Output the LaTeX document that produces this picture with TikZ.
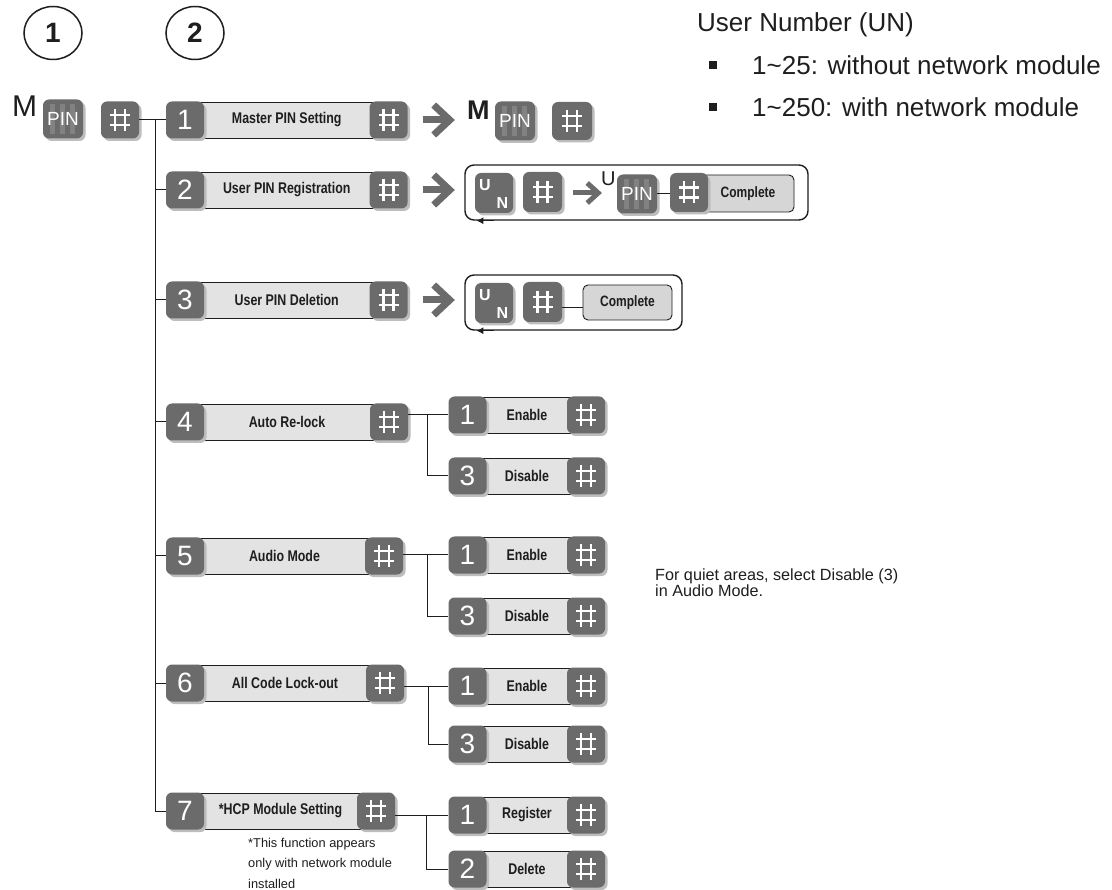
\documentclass[tikz,border=0pt]{standalone}
\usepackage{fontspec}
\setmainfont{Liberation Sans}
\setsansfont{Liberation Sans}
\newfontfamily\condfont[FakeStretch=0.8]{Liberation Sans}
\usetikzlibrary{calc,shapes.geometric,shadows,arrows.meta}
\definecolor{keygray}{HTML}{6B6B6B}
\definecolor{shadowgray}{HTML}{BDBDBD}
\definecolor{bargray}{HTML}{E3E3E3}
\definecolor{compgray}{HTML}{D6D6D6}
\definecolor{inkcol}{HTML}{1E1E1E}
\tikzset{
  keycap/.style={rounded corners=6pt, fill=keygray, minimum width=38pt, minimum height=37pt,
    inner sep=0pt, text=white, font=\fontsize{28}{28}\selectfont,
    general shadow={fill=shadowgray, shadow xshift=2.5pt, shadow yshift=-2.5pt}},
  labelbar/.style={fill=bargray, draw=inkcol, line width=0.9pt, minimum height=36pt, inner sep=0pt,
    font=\condfont\bfseries\fontsize{15.5}{16}\selectfont, text=inkcol},
  compbar/.style={fill=compgray, draw=inkcol, line width=0.9pt, rounded corners=5pt, inner sep=0pt,
    font=\condfont\bfseries\fontsize{15}{16}\selectfont, text=inkcol},
  loopbox/.style={draw=inkcol, line width=1.4pt, rounded corners=9pt, inner sep=0pt, fill=white},
  hashline/.style={white, line width=2.4pt},
  wire/.style={inkcol, line width=1pt},
  bigarr/.style={keygray, line width=7pt, line join=miter},
  smallarr/.style={keygray, line width=5pt, line join=miter},
  plaintext/.style={inner sep=0pt, text=inkcol},
  unletter/.style={inner sep=0pt, text=white, font=\bfseries\fontsize{16}{16}\selectfont}
}
\newcommand\hashmark[1]{%
  \draw[hashline] ($(#1.center)+(-5,-11)$) -- ++(0,22)
                  ($(#1.center)+(5,-11)$) -- ++(0,22)
                  ($(#1.center)+(-10,-5)$) -- ++(20,0)
                  ($(#1.center)+(-10,5)$) -- ++(20,0);}
\newcommand\pinkey[3]{%
  \node[keycap, minimum width=40pt, minimum height=39pt] (#1) at (#2,#3) {};
  \foreach \dx in {-11,-1,9} \fill[white, opacity=0.16] ($(#1.center)+({\dx-2.5},-15)$) rectangle ++(5,30);
  \node[inner sep=0pt, text=white, font=\fontsize{19}{19}\selectfont] (#1t) at (#1.center) {PIN};}
\newcommand\unkey[3]{%
  \node[keycap, minimum height=40pt] (#1) at (#2,#3) {};
  \node[unletter] (#1u) at ($(#1.center)+(-9,-8)$) {U};
  \node[unletter] (#1n) at ($(#1.center)+(8.5,10)$) {N};}
\newcommand\mainrow[5]{%
  \node[labelbar, minimum width={#5-213}] (b#1) at ({(185+#5)/2},#2) {#4};
  \node[keycap] (k#1) at (185,#2) {#3};
  \node[keycap] (h#1) at (#5,#2) {};
  \hashmark{h#1}}
\newcommand\subrow[4]{%
  \node[labelbar, minimum width=94] (sb#1) at (527,#2) {#4};
  \node[keycap] (sk#1) at (467.5,#2) {#3};
  \node[keycap] (sh#1) at (586,#2) {};
  \hashmark{sh#1}}
\newcommand\bigarrow[2]{%
  \coordinate (#1s) at ($(#2.east)+(15,0)$);
  \coordinate (#1e) at ($(#2.east)+(41,0)$);
  \draw[bigarr] (#1s) -- (#1e);
  \draw[bigarr] ($(#1e)+(-15,-15)$) -- ($(#1e)+(1,0)$) -- ($(#1e)+(-15,15)$);}
\begin{document}
\begin{tikzpicture}[x=1pt,y=-1pt]
\useasboundingbox (0,0) rectangle (1112,890);
\fill[white] (0,0) rectangle (1112,890);

% step circles
\node[draw=inkcol, ellipse, line width=1.5pt, minimum width=58pt, minimum height=53pt, inner sep=0pt,
  font=\bfseries\fontsize{28}{28}\selectfont, text=inkcol] (c1) at (53,33) {1};
\node[draw=inkcol, ellipse, line width=1.5pt, minimum width=58pt, minimum height=53pt, inner sep=0pt,
  font=\bfseries\fontsize{28}{28}\selectfont, text=inkcol] (c2) at (195,33) {2};

% start: M PIN #
\node[plaintext, anchor=base west, font=\fontsize{30}{30}\selectfont] (m0) at (12,117) {M};
\pinkey{p0}{63}{119}
\node[keycap] (h0) at (120,120) {};
\hashmark{h0}

% main rows
\mainrow{1}{120}{1}{Master PIN Setting}{388.5}
\mainrow{2}{190}{2}{User PIN Registration}{388.5}
\mainrow{3}{300}{3}{User PIN Deletion}{388.5}
\mainrow{4}{422}{4}{Auto Re-lock}{389}
\mainrow{5}{556}{5}{Audio Mode}{384}
\mainrow{6}{683}{6}{All Code Lock-out}{385}
\mainrow{7}{811}{7}{*HCP Module Setting}{376}

% trunk
\coordinate (tt) at (155,120);
\draw[wire] (h0.east) -- (k1.west);
\draw[wire] (tt) |- (k7.west);
\foreach \r in {2,...,6} \draw[wire] (k\r.west -| tt) -- (k\r.west);

% row 1 result
\bigarrow{a1}{h1}
\node[plaintext, anchor=base west, font=\bfseries\fontsize{27}{27}\selectfont] (m1) at (467,120) {M};
\pinkey{p1}{515}{121}
\node[keycap, minimum width=40pt, minimum height=38pt] (h1b) at (572,121) {};
\hashmark{h1b}

% row 2 loop
\bigarrow{a2}{h2}
\node[loopbox, minimum width=343pt, minimum height=55pt] (loop2) at (636.5,192.5) {};
\draw[inkcol, line width=1.4pt, -{Latex[length=7pt,width=7pt]}] ($(loop2.south west)+(30,0)$) -- ($(loop2.south west)+(12,0)$);
\unkey{un2}{494}{193}
\node[keycap, minimum width=39pt, minimum height=40pt] (h2a) at (542.5,192) {};
\hashmark{h2a}
\coordinate (s2s) at ($(h2a.east)+(11,1)$);
\coordinate (s2e) at ($(h2a.east)+(35,1)$);
\draw[smallarr] (s2s) -- (s2e);
\draw[smallarr] ($(s2e)+(-10,-10)$) -- ($(s2e)+(1,0)$) -- ($(s2e)+(-10,10)$);
\node[plaintext, anchor=base west, font=\fontsize{20}{20}\selectfont] (u2) at (601,186) {U};
\pinkey{p2}{637}{194}
\node[compbar, minimum width=92pt, minimum height=37pt] (cp2) at (748,193.5) {Complete};
\node[keycap, minimum height=39pt] (h2b) at (689,192.5) {};
\hashmark{h2b}
\draw[wire] (p2.east) -- (p2.east -| h2b.west);

% row 3 loop
\bigarrow{a3}{h3}
\node[loopbox, minimum width=217pt, minimum height=55pt] (loop3) at (573.5,302.5) {};
\draw[inkcol, line width=1.4pt, -{Latex[length=7pt,width=7pt]}] ($(loop3.south west)+(30,0)$) -- ($(loop3.south west)+(12,0)$);
\unkey{un3}{494}{303}
\node[keycap, minimum width=39pt, minimum height=40pt] (h3a) at (542.5,302) {};
\hashmark{h3a}
\node[compbar, minimum width=89pt, minimum height=35pt] (cp3) at (627.5,302.5) {Complete};
\draw[wire] ([yshift=-6pt]h3a.east) -- ([yshift=-6pt]h3a.east -| cp3.west);

% sub rows
\subrow{41}{415}{1}{Enable}
\subrow{43}{476}{3}{Disable}
\subrow{51}{555}{1}{Enable}
\subrow{53}{616}{3}{Disable}
\subrow{61}{686}{1}{Enable}
\subrow{63}{744}{3}{Disable}
\subrow{71}{815}{1}{Register}
\subrow{72}{869}{2}{Delete}

% branches
\coordinate (br4) at (427,415);
\draw[wire] (sk41.west -| h4.east) -- (sk41.west);
\draw[wire] (br4) |- (sk43.west);
\coordinate (br5) at (427,555);
\draw[wire] (sk51.west -| h5.east) -- (sk51.west);
\draw[wire] (br5) |- (sk53.west);
\coordinate (br6) at (428,686);
\draw[wire] (sk61.west -| h6.east) -- (sk61.west);
\draw[wire] (br6) |- (sk63.west);
\coordinate (br7) at (426,815);
\draw[wire] (sk71.west -| h7.east) -- (sk71.west);
\draw[wire] (br7) |- (sk72.west);

% texts
\node[plaintext, anchor=base west, font=\fontsize{26}{26}\selectfont] (untitle) at (697,32) {User Number (UN)};
\node[fill=inkcol, minimum size=8pt, inner sep=0pt] (bul1) at (713,65) {};
\node[plaintext, anchor=base west, font=\fontsize{26}{26}\selectfont] (untext1) at (752,75) {1\textasciitilde 25: without network module};
\node[fill=inkcol, minimum size=8pt, inner sep=0pt] (bul2) at (713,107) {};
\node[plaintext, anchor=base west, font=\fontsize{26}{26}\selectfont] (untext2) at (752,117) {1\textasciitilde 250: with network module};
\node[plaintext, anchor=base west, align=left, font=\fontsize{16.2}{16}\selectfont] (quiet) at (655,596) {For quiet areas, select Disable (3)\\in Audio Mode.};
\node[plaintext, anchor=base west, align=left, font=\fontsize{12.8}{20.5}\selectfont] (foot) at (248,888) {*This function appears\\only with network module\\installed};
\end{tikzpicture}
\end{document}
